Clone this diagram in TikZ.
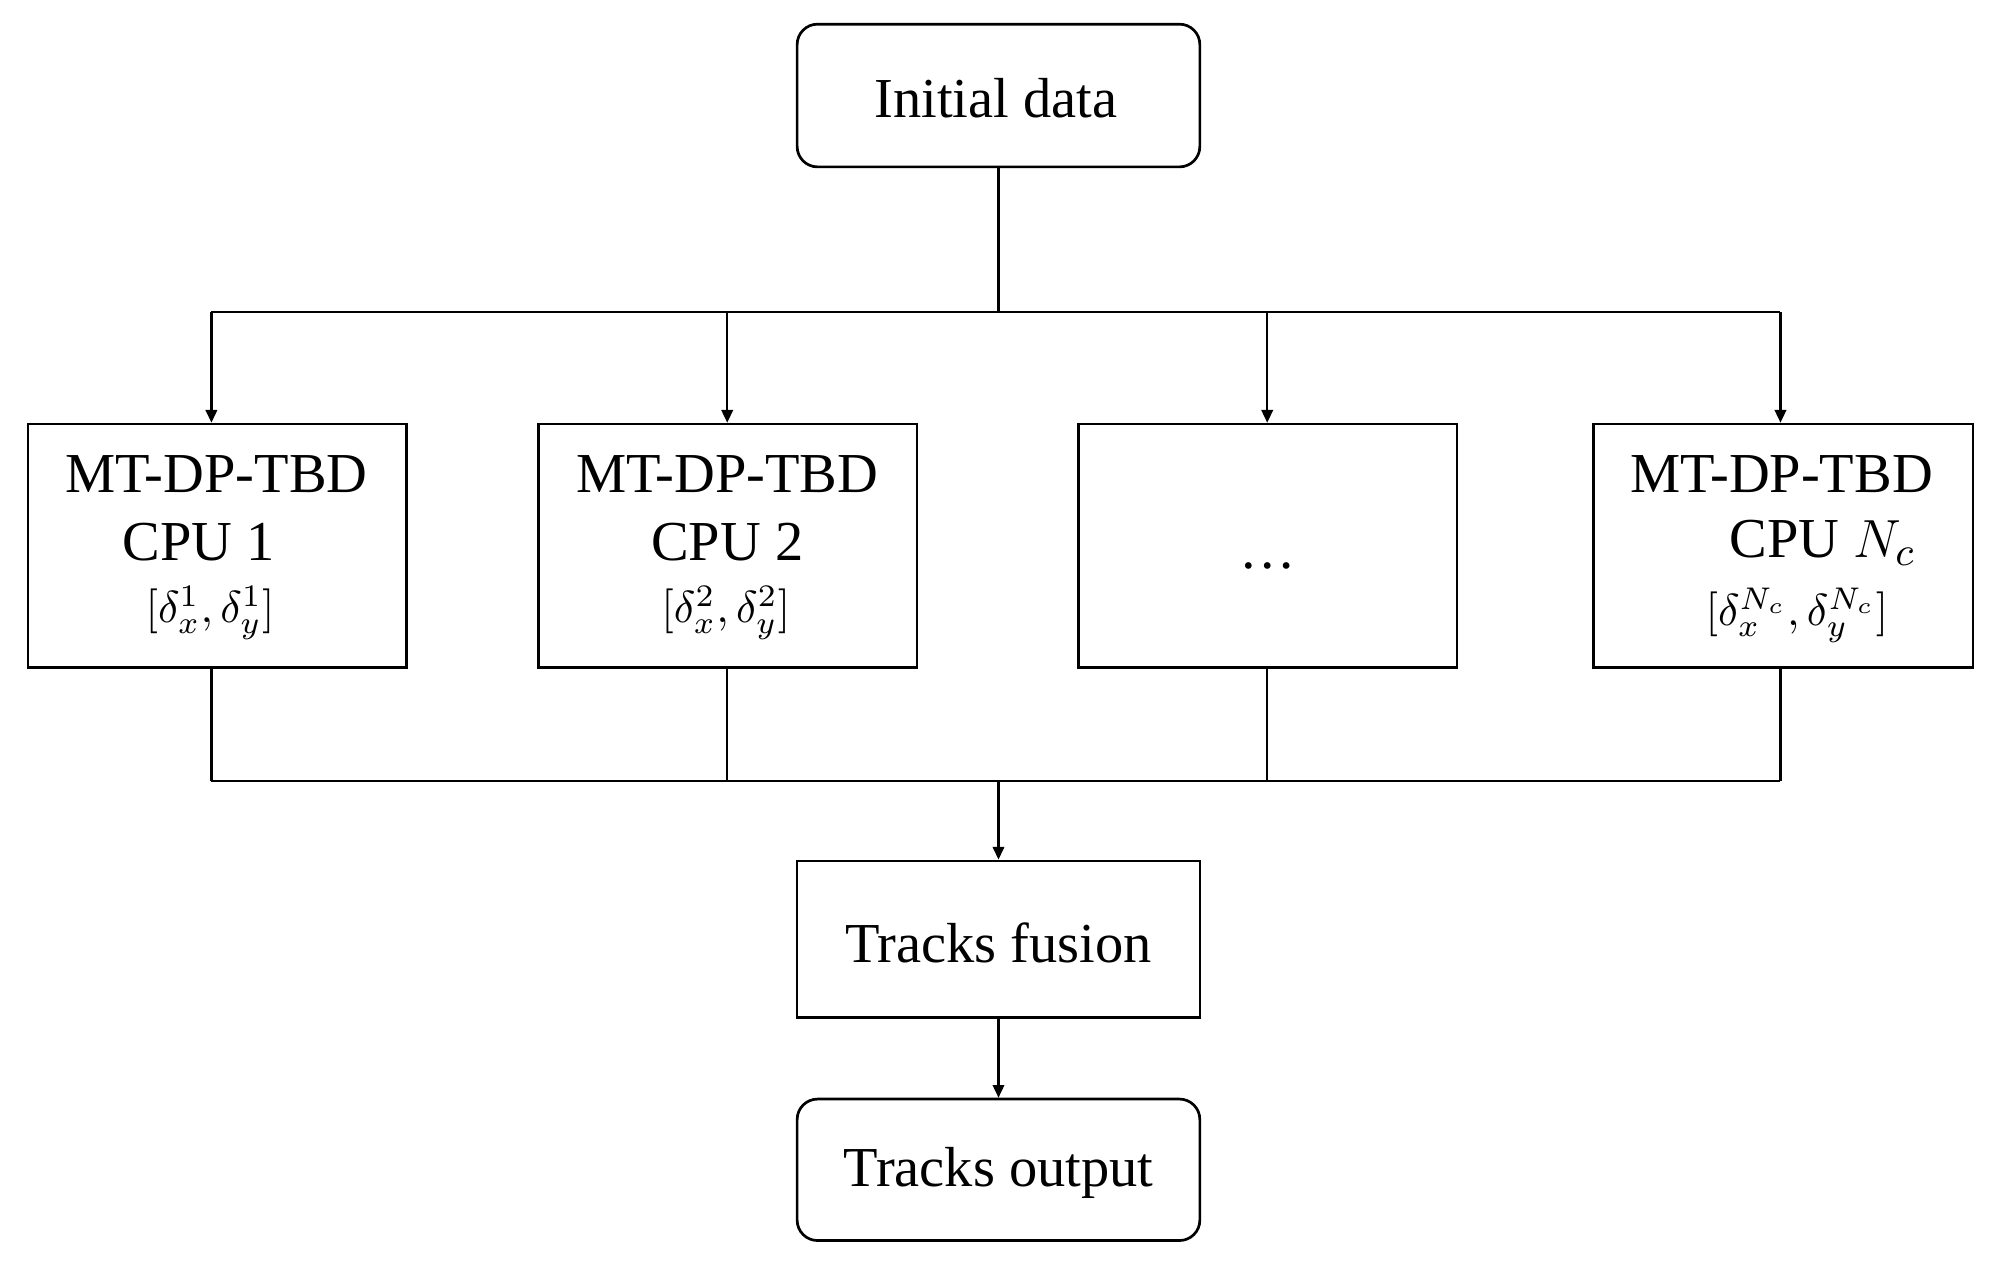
\documentclass[tikz,border=0pt]{standalone}
\usepackage{fontspec}
\setmainfont{Liberation Serif}
\usetikzlibrary{arrows.meta}
\begin{document}
\begin{tikzpicture}[x=0.01cm,y=-0.01cm,
  line width=0.5pt,
  box/.style={draw,rectangle,inner sep=0pt,line width=0.6pt},
  rbox/.style={box,rounded corners=0.16cm},
  lbl/.style={inner sep=0pt,font=\fontsize{12.6}{15}\selectfont},
  mlbl/.style={inner sep=0pt,font=\fontsize{10}{12}\selectfont},
  arr/.style={-{Triangle[length=0.1cm,width=0.09cm]}}]
\useasboundingbox (0,0) rectangle (1568,996);
% main nodes
\node[rbox,minimum width=3.16cm,minimum height=1.12cm] (init) at (784,75) {};
\node[lbl] (tinit) at (782,77) {Initial data};
\node[box,minimum width=2.97cm,minimum height=1.91cm] (cpu1) at (170.5,428.5) {};
\node[box,minimum width=2.97cm,minimum height=1.91cm] (cpu2) at (571.5,428.5) {};
\node[box,minimum width=2.97cm,minimum height=1.91cm] (cpu3) at (995.5,428.5) {};
\node[box,minimum width=2.98cm,minimum height=1.91cm] (cpu4) at (1400,428.5) {};
\node[box,minimum width=3.16cm,minimum height=1.23cm] (fus) at (784,737.5) {};
\node[rbox,minimum width=3.16cm,minimum height=1.11cm] (out) at (784,918.5) {};
\node[lbl] (tfus) at (784,740) {Tracks fusion};
\node[lbl] (tout) at (784,921) {Tracks output};
% box texts
\node[lbl] (a1) at (170,372) {MT-DP-TBD};
\node[lbl] (b1) at (156,426) {CPU 1};
\node[mlbl] (c1) at (165,481) {$[\delta_x^1,\delta_y^1]$};
\node[lbl] (a2) at (571,372) {MT-DP-TBD};
\node[lbl] (b2) at (571,426) {CPU 2};
\node[mlbl] (c2) at (570,481) {$[\delta_x^2,\delta_y^2]$};
\node[lbl] (d3) at (995,444) {…};
\node[lbl] (a4) at (1399,372) {MT-DP-TBD};
\node[lbl,anchor=base west] (b4) at (1357,438) {CPU $N_c$};
\node[mlbl] (c4) at (1411,483) {$[\delta_x^{N_c},\delta_y^{N_c}]$};
% bus coordinates
\coordinate (tb) at (784,245);
\coordinate (t1) at (166,245);
\coordinate (t2) at (571,245);
\coordinate (t3) at (995,245);
\coordinate (t4) at (1398,245);
\coordinate (bb) at (784,613);
\coordinate (u1) at (166,613);
\coordinate (u2) at (571,613);
\coordinate (u3) at (995,613);
\coordinate (u4) at (1398,613);
% connectors
\draw (init.south) -- (tb);
\draw (t1) -- (t4);
\draw[arr] (t1) -- (cpu1.north -| t1);
\draw[arr] (t2) -- (cpu2.north -| t2);
\draw[arr] (t3) -- (cpu3.north -| t3);
\draw[arr] (t4) -- (cpu4.north -| t4);
\draw (cpu1.south -| u1) -- (u1);
\draw (cpu2.south -| u2) -- (u2);
\draw (cpu3.south -| u3) -- (u3);
\draw (cpu4.south -| u4) -- (u4);
\draw (u1) -- (u4);
\draw[arr] (bb) -- (fus.north);
\draw[arr] (fus.south) -- (out.north);
\end{tikzpicture}
\end{document}
